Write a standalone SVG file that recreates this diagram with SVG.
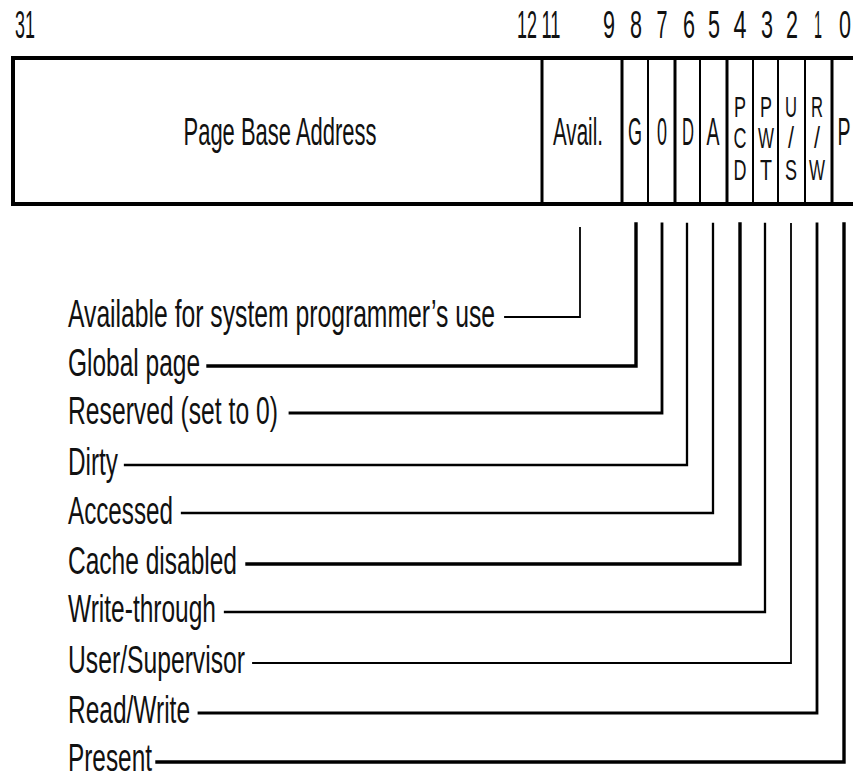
<svg xmlns="http://www.w3.org/2000/svg" width="853" height="772" viewBox="0 0 853 772">
<style>
text{font-family:"Liberation Sans",Arial,sans-serif;fill:#111;}
.big{font-size:38px;}
.sm{font-size:30px;}
.mid{text-anchor:middle;}
.box{fill:#fff;stroke:#000;stroke-width:4;}
.div3{stroke:#000;stroke-width:3;}
.div2{stroke:#000;stroke-width:2;}
.c{fill:none;stroke:#000;stroke-linejoin:miter;stroke-linecap:square;}
.thin{stroke-width:1.8;}
.med{stroke-width:2.3;}
.semi{stroke-width:2.8;}
.thick{stroke-width:3.4;}
</style>
<rect width="853" height="772" fill="#fff"/>
<g id="bit-numbers" class="big">
<text x="25" y="38" class="mid" textLength="20" lengthAdjust="spacingAndGlyphs">31</text>
<text x="527" y="38" class="mid" textLength="20" lengthAdjust="spacingAndGlyphs">12</text>
<text x="551" y="38" class="mid" textLength="19" lengthAdjust="spacingAndGlyphs">11</text>
<text x="609" y="38" class="mid" textLength="12" lengthAdjust="spacingAndGlyphs">9</text>
<text x="636" y="38" class="mid" textLength="12" lengthAdjust="spacingAndGlyphs">8</text>
<text x="662" y="38" class="mid" textLength="11" lengthAdjust="spacingAndGlyphs">7</text>
<text x="689" y="38" class="mid" textLength="12" lengthAdjust="spacingAndGlyphs">6</text>
<text x="714" y="38" class="mid" textLength="12" lengthAdjust="spacingAndGlyphs">5</text>
<text x="740" y="38" class="mid" textLength="13" lengthAdjust="spacingAndGlyphs">4</text>
<text x="767" y="38" class="mid" textLength="12" lengthAdjust="spacingAndGlyphs">3</text>
<text x="792" y="38" class="mid" textLength="12" lengthAdjust="spacingAndGlyphs">2</text>
<text x="818" y="38" class="mid" textLength="8" lengthAdjust="spacingAndGlyphs">1</text>
<text x="845" y="38" class="mid" textLength="12" lengthAdjust="spacingAndGlyphs">0</text>
</g>
<g id="entry">
<rect class="box" x="13" y="58" width="870" height="146"/>
<line class="div3" x1="542" y1="58" x2="542" y2="204"/>
<line class="div3" x1="622" y1="58" x2="622" y2="204"/>
<line class="div2" x1="648" y1="58" x2="648" y2="204"/>
<line class="div3" x1="675" y1="58" x2="675" y2="204"/>
<line class="div2" x1="700" y1="58" x2="700" y2="204"/>
<line class="div3" x1="727" y1="58" x2="727" y2="204"/>
<line class="div2" x1="753" y1="58" x2="753" y2="204"/>
<line class="div2" x1="778" y1="58" x2="778" y2="204"/>
<line class="div2" x1="805" y1="58" x2="805" y2="204"/>
<line class="div3" x1="832" y1="58" x2="832" y2="204"/>
</g>
<g id="field-base" class="big"><text x="280" y="145" class="mid" textLength="193" lengthAdjust="spacingAndGlyphs">Page Base Address</text></g>
<g id="field-avail" class="big"><text x="578" y="145" class="mid" textLength="50" lengthAdjust="spacingAndGlyphs">Avail.</text></g>
<g id="field-g" class="big"><text x="635" y="145" class="mid" textLength="14" lengthAdjust="spacingAndGlyphs">G</text></g>
<g id="field-0" class="big"><text x="662" y="145" class="mid" textLength="10" lengthAdjust="spacingAndGlyphs">0</text></g>
<g id="field-d" class="big"><text x="688" y="145" class="mid" textLength="12" lengthAdjust="spacingAndGlyphs">D</text></g>
<g id="field-a" class="big"><text x="713" y="145" class="mid" textLength="13" lengthAdjust="spacingAndGlyphs">A</text></g>
<g id="field-pcd" class="sm">
<text x="740" y="117" class="mid" textLength="12" lengthAdjust="spacingAndGlyphs">P</text>
<text x="740" y="148" class="mid" textLength="13" lengthAdjust="spacingAndGlyphs">C</text>
<text x="740" y="180" class="mid" textLength="13" lengthAdjust="spacingAndGlyphs">D</text>
</g>
<g id="field-pwt" class="sm">
<text x="766" y="117" class="mid" textLength="12" lengthAdjust="spacingAndGlyphs">P</text>
<text x="766" y="148" class="mid" textLength="16" lengthAdjust="spacingAndGlyphs">W</text>
<text x="766" y="180" class="mid" textLength="12" lengthAdjust="spacingAndGlyphs">T</text>
</g>
<g id="field-us" class="sm">
<text x="791" y="117" class="mid" textLength="12" lengthAdjust="spacingAndGlyphs">U</text>
<text x="791" y="148" class="mid" textLength="6" lengthAdjust="spacingAndGlyphs">/</text>
<text x="791" y="180" class="mid" textLength="12" lengthAdjust="spacingAndGlyphs">S</text>
</g>
<g id="field-rw" class="sm">
<text x="817" y="117" class="mid" textLength="12" lengthAdjust="spacingAndGlyphs">R</text>
<text x="817" y="148" class="mid" textLength="6" lengthAdjust="spacingAndGlyphs">/</text>
<text x="817" y="180" class="mid" textLength="16" lengthAdjust="spacingAndGlyphs">W</text>
</g>
<g id="field-p" class="big"><text x="844" y="145" class="mid" textLength="13" lengthAdjust="spacingAndGlyphs">P</text></g>
<g id="connectors">
<path class="c thin" d="M505 317H580V228"/>
<path class="c thick" d="M208 366H636V224"/>
<path class="c semi" d="M290 413H662V224"/>
<path class="c med" d="M125 465H687V224"/>
<path class="c med" d="M182 513H713V224"/>
<path class="c thick" d="M247 564H740V224"/>
<path class="c med" d="M225 612H765V224"/>
<path class="c thin" d="M253 663H791V224"/>
<path class="c semi" d="M199 713H817V224"/>
<path class="c thick" d="M157 762H844V224"/>
</g>
<g id="label-avail" class="big"><text x="68" y="327" textLength="427" lengthAdjust="spacingAndGlyphs">Available for system programmer’s use</text></g>
<g id="label-global" class="big"><text x="68" y="376" textLength="132" lengthAdjust="spacingAndGlyphs">Global page</text></g>
<g id="label-reserved" class="big"><text x="68" y="424" textLength="210" lengthAdjust="spacingAndGlyphs">Reserved (set to 0)</text></g>
<g id="label-dirty" class="big"><text x="68" y="475" textLength="50" lengthAdjust="spacingAndGlyphs">Dirty</text></g>
<g id="label-accessed" class="big"><text x="68" y="524" textLength="105" lengthAdjust="spacingAndGlyphs">Accessed</text></g>
<g id="label-cache" class="big"><text x="68" y="574" textLength="169" lengthAdjust="spacingAndGlyphs">Cache disabled</text></g>
<g id="label-write" class="big"><text x="68" y="622" textLength="148" lengthAdjust="spacingAndGlyphs">Write-through</text></g>
<g id="label-user" class="big"><text x="68" y="673" textLength="177" lengthAdjust="spacingAndGlyphs">User/Supervisor</text></g>
<g id="label-rw" class="big"><text x="68" y="723" textLength="122" lengthAdjust="spacingAndGlyphs">Read/Write</text></g>
<g id="label-present" class="big"><text x="68" y="771" textLength="84" lengthAdjust="spacingAndGlyphs">Present</text></g>
</svg>
